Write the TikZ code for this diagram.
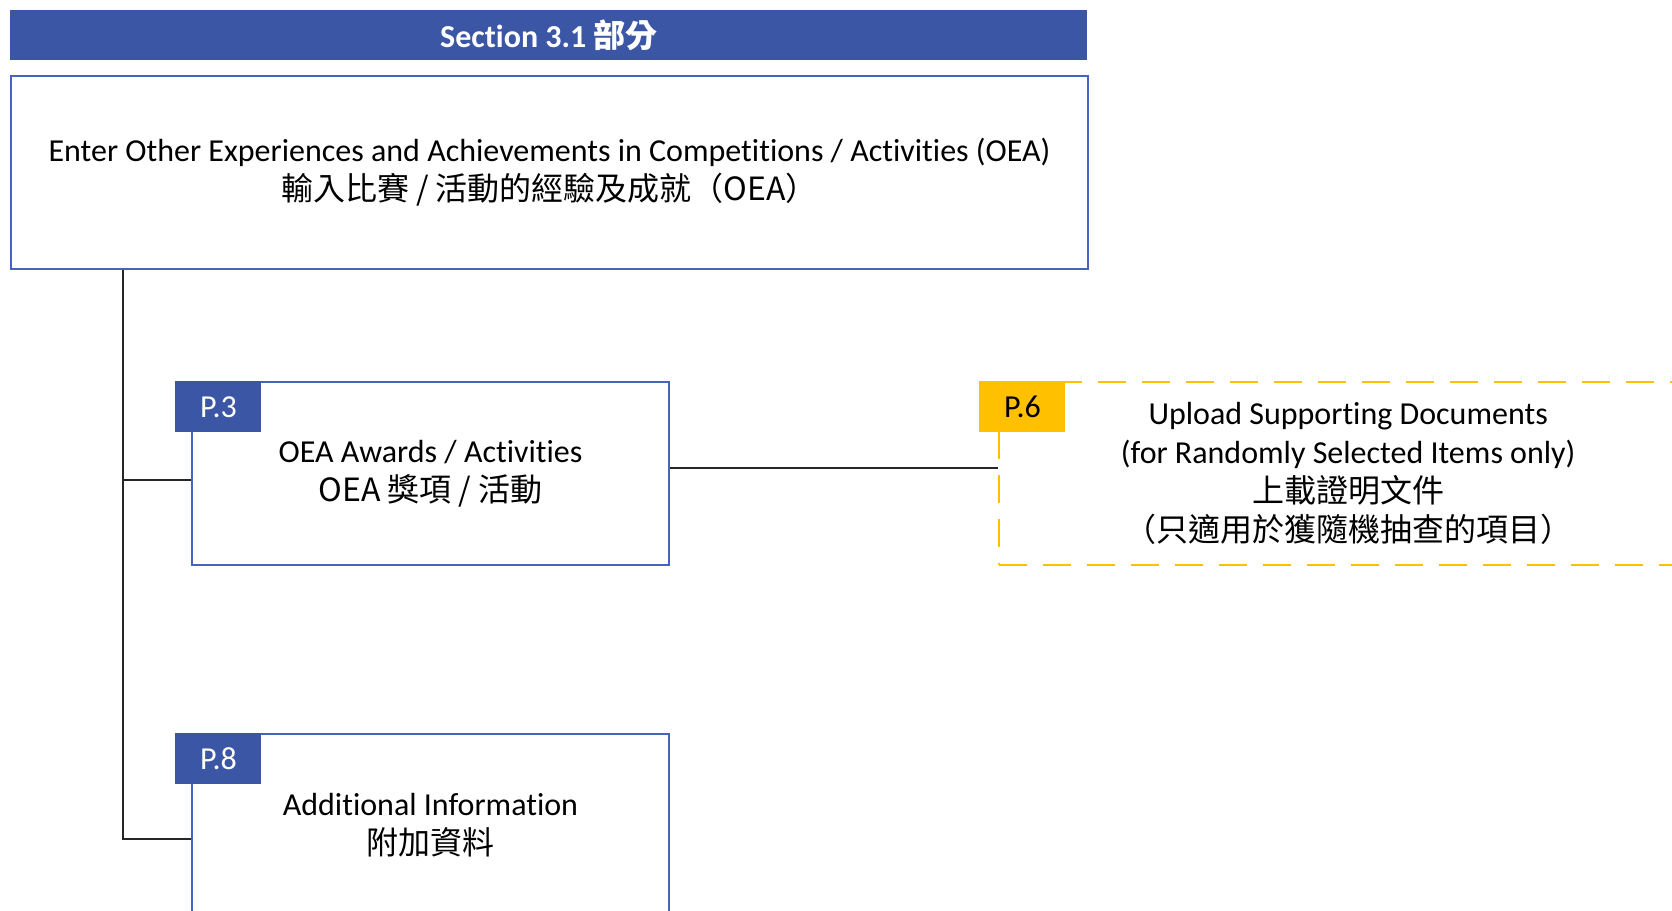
\documentclass[tikz,border=0pt]{standalone}
\usepackage{fontspec}
\setmainfont{Carlito}[Ligatures={NoCommon}]
\newfontfamily\cjk{Noto Sans CJK TC}
\usetikzlibrary{positioning}
\definecolor{barblue}{RGB}{59,86,165}
\definecolor{lineblue}{RGB}{70,100,190}
\definecolor{tagyellow}{RGB}{255,192,0}
\tikzset{
  box/.style={draw=lineblue, line width=1pt, minimum width=238.5pt, minimum height=91.5pt, inner sep=0pt, align=center},
  tag/.style={fill=barblue, text=white, minimum width=43pt, minimum height=25.5pt, inner sep=0pt, anchor=north west},
  link/.style={draw=black!85, line width=1pt}
}
\begin{document}
\begin{tikzpicture}[x=0.5pt, y=-0.5pt, every node/.style={font=\fontsize{16}{19.5}\selectfont}]
	\clip (0,0) rectangle (1672,911);
	\node[fill=barblue, text=white, font=\fontsize{16}{19.5}\selectfont\bfseries, minimum width=538.5pt, minimum height=25pt, inner sep=0pt, anchor=north west] (title) at (10,10) {Section 3.1 {\cjk 部分}};
	\node[box, minimum width=538.5pt, minimum height=96.5pt, anchor=north west] (oea) at (10,75) {Enter Other Experiences and Achievements in Competitions / Activities (OEA)\\{\cjk 輸入比賽 / 活動的經驗及成就（OEA）}};
	\node[box, anchor=north west] (awards) at (191,381) {OEA Awards / Activities\\{\cjk OEA 獎項 / 活動}};
	\node[box, draw=tagyellow, line width=1.2pt, dash pattern=on 14pt off 8pt, minimum width=349pt, right=164pt of awards] (upload) {Upload Supporting Documents\\(for Randomly Selected Items only)\\{\cjk 上載證明文件}\\{\cjk （只適用於獲隨機抽查的項目）}};
	\node[box, below=83.5pt of awards] (extra) {Additional Information\\{\cjk 附加資料}};
	% page tags
	\node[tag, xshift=-8pt] (p3) at (awards.north west) {P.3};
	\node[tag, fill=tagyellow, text=black, xshift=-9.5pt] (p6) at (upload.north west) {P.6};
	\node[tag, xshift=-8pt] (p8) at (extra.north west) {P.8};
	% connectors
	\coordinate (trunk) at ([xshift=56.5pt]oea.south west);
	\path[link] (trunk) |- ([yshift=-6.5pt]extra.west);
	\path[link] ([yshift=-3pt]awards.west) -| (trunk);
	\path[link] ([yshift=3pt]awards.east) -- ([yshift=3pt]awards.east -| upload.west);
\end{tikzpicture}
\end{document}
